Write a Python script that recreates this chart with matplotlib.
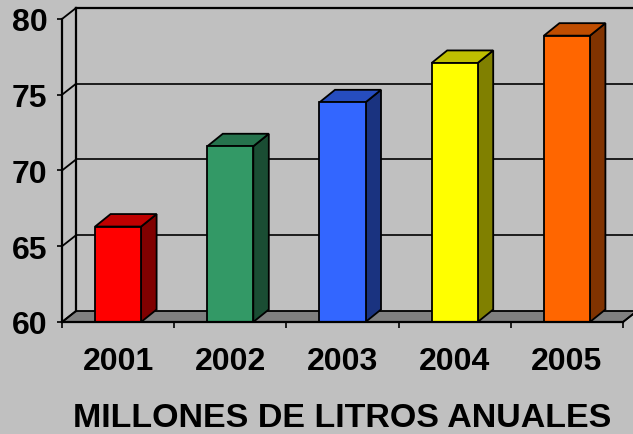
import numpy as np
import matplotlib.pyplot as plt
from matplotlib.patches import Polygon

plt.rcParams['font.family'] = ['Liberation Sans', 'DejaVu Sans']
plt.rcParams['font.weight'] = 'bold'

# datos
years = ['2001', '2002', '2003', '2004', '2005']
values = [66.3, 71.6, 74.5, 77.1, 78.9]
colors = ['#FF0000', '#339966', '#3366FF', '#FFFF00', '#FF6600']
y_ticks = [60, 65, 70, 75, 80]
x_label = 'MILLONES DE LITROS ANUALES'

W, H = 633, 435
fig = plt.figure(figsize=(W / 100, H / 100), dpi=100, facecolor='#C0C0C0')
ax = fig.add_axes([62 / W, (H - 323) / H, (623 - 62) / W, (323 - 20) / H])
ax.patch.set_visible(False)
ax.set_xlim(-0.5, 4.5)
ax.set_ylim(60, 80)
fig.canvas.draw()


def back(x, y, dx=14, dy=11):
    # desplazamiento de profundidad (pixeles) pasado a coordenadas de datos
    p = ax.transData.transform((x, y)) + np.array([dx, dy])
    return ax.transData.inverted().transform(p)


def shade(c, f):
    r, g, b = [int(c[i:i + 2], 16) / 255 for i in (1, 3, 5)]
    return (r * f, g * f, b * f)


lw = 1.6
# suelo
floor = Polygon([(-0.5, 60), (4.5, 60), back(4.5, 60), back(-0.5, 60)],
                closed=True, facecolor='#808080', edgecolor='black', lw=1.3, clip_on=False, zorder=1)
ax.add_patch(floor)

# paredes y lineas de division
for v in y_ticks:
    b0 = back(-0.5, v)
    b1 = back(4.5, v)
    ax.plot([-0.5, b0[0]], [v, b0[1]], color='black', lw=1.3, clip_on=False, zorder=1)
    if v > 60:
        ax.plot([b0[0], b1[0]], [b0[1], b1[1]], color='black', lw=1.2 if v < 80 else lw,
                clip_on=False, zorder=0.5)
bt, bb = back(-0.5, 80), back(-0.5, 60)
ax.plot([bt[0], bb[0]], [bt[1], bb[1]], color='black', lw=lw, clip_on=False, zorder=1)
br = back(4.5, 60)
ax.plot([4.5, br[0]], [60, br[1]], color='black', lw=1.2, clip_on=False, zorder=1)

# barras 3D
x = np.arange(len(years))
w = 0.41
for xi, v, c in zip(x, values, colors):
    l, r = xi - w / 2, xi + w / 2
    side = Polygon([(r, 60), (r, v), back(r, v, 15.5, 12.5), back(r, 60, 15.5, 12.5)],
                   closed=True, facecolor=shade(c, 0.5), edgecolor='black', lw=1.3, zorder=2, clip_on=False)
    top = Polygon([(l, v), (r, v), back(r, v, 15.5, 12.5), back(l, v, 15.5, 12.5)],
                  closed=True, facecolor=shade(c, 0.75), edgecolor='black', lw=1.3, zorder=2, clip_on=False)
    ax.add_patch(side)
    ax.add_patch(top)
ax.bar(x, [v - 60 for v in values], bottom=60, width=w, color=colors,
       edgecolor='black', linewidth=1.3, zorder=3)

# ejes
for s in ['top', 'right']:
    ax.spines[s].set_visible(False)
for s in ['left', 'bottom']:
    ax.spines[s].set_linewidth(lw)
    ax.spines[s].set_zorder(4)

ax.set_yticks(y_ticks)
ax.set_yticklabels([str(t) for t in y_ticks], fontsize=23, fontweight='bold')
ax.tick_params(axis='y', direction='out', length=3.5, width=1.2, pad=7)
ax.set_xticks(x)
ax.set_xticklabels(years, fontsize=23, fontweight='bold')
ax.set_xticks(np.arange(-0.5, 5, 1), minor=True)
ax.tick_params(axis='x', which='major', length=0, pad=17)
ax.tick_params(axis='x', which='minor', direction='out', length=4.5, width=1.2)
ax.set_xlabel(x_label, fontsize=24.5, fontweight='bold', labelpad=19)

fig.savefig('out.png', dpi=100, facecolor=fig.get_facecolor())
